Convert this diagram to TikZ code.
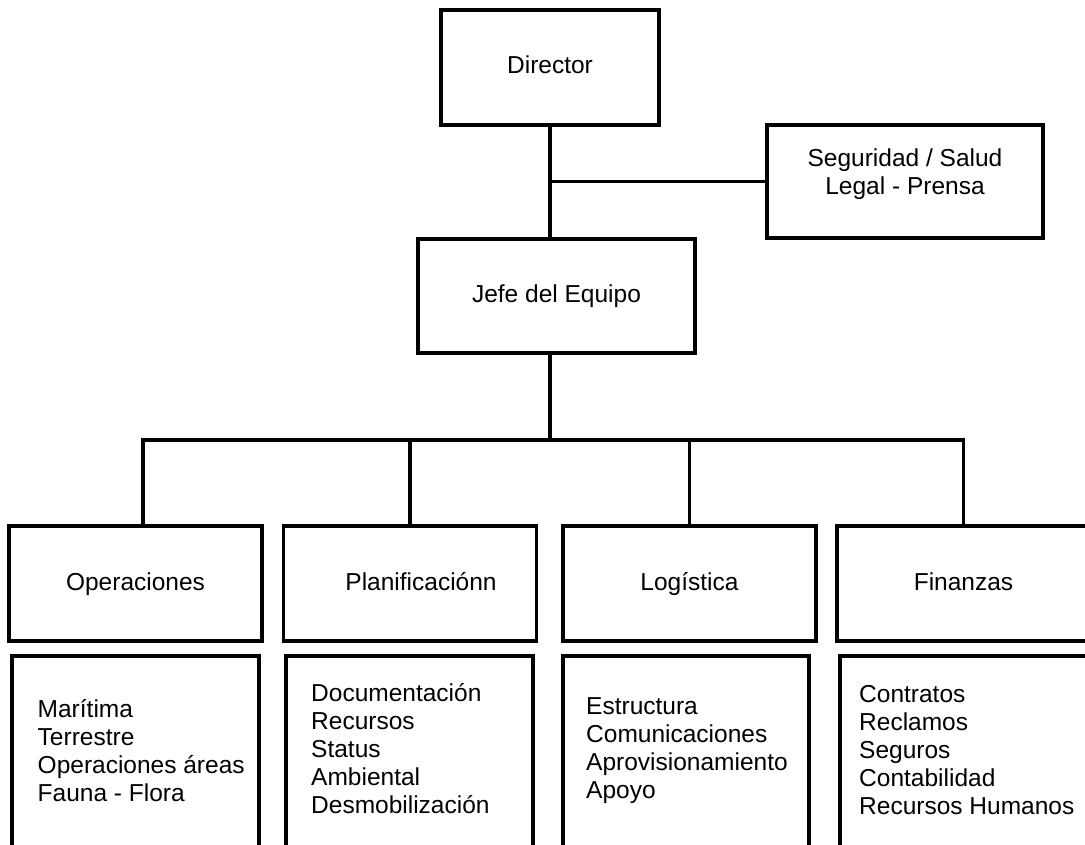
\documentclass[tikz,border=0pt]{standalone}
\usepackage{fontspec}
\setmainfont{Liberation Sans}
\usetikzlibrary{positioning}

\begin{document}
\begin{tikzpicture}[x=1pt,y=-1pt,
    font=\fontsize{24.5}{28}\selectfont,
    unit/.style={draw, line width=3.5pt, inner sep=0pt,
                 text height=18pt, text depth=5pt,
                 minimum width=253pt, minimum height=115pt},
    tasks/.style={draw, line width=3.5pt, inner sep=0pt,
                  minimum width=247pt, minimum height=230pt},
    txt/.style={inner sep=0pt, align=center},
    list/.style={inner sep=0pt, align=left, anchor=west},
    link/.style={line width=3.5pt}]
  \useasboundingbox (0,0) rectangle (1085,845);
  \clip (0,0) rectangle (1085,845);

  % top of the chart
  \node[unit, minimum width=218pt] (dir) at (550,67.5) {Director};
  \node[draw, line width=3.5pt, minimum width=276pt, minimum height=113pt] (seg) at (905,181.5) {};
  \node[txt] (segtxt) at (905,174) {Seguridad / Salud\\Legal - Prensa};
  \node[unit, minimum width=277pt, minimum height=114pt] (jefe) at (556.5,296) {Jefe del Equipo};

  % sections
  \node[unit] (op)   at (135.5,583.5) {Operaciones};
  \node[unit] (plan) at (410,583.5)   {\hspace{22pt}Planificaciónn};
  \node[unit] (log)  at (689.5,583.5) {Logística};
  \node[unit] (fin)  at (963.5,583.5) {Finanzas};

  % task lists
  \node[tasks] (opl)   at (135.5,771) {};
  \node[tasks] (planl) at (409.5,771) {};
  \node[tasks, minimum width=246pt] (logl) at (686,771) {};
  \node[tasks] (finl)  at (963.5,771) {};

  \node[list] (opltxt)   at (37.5,751) {Marítima\\Terrestre\\Operaciones áreas\\Fauna - Flora};
  \node[list] (planltxt) at (311,748.5) {Documentación\\Recursos\\Status\\Ambiental\\Desmobilización};
  \node[list] (logltxt)  at (586,751) {Estructura\\Comunicaciones\\Aprovisionamiento\\Apoyo};
  \node[list] (finltxt)  at (859,750) {Contratos\\Reclamos\\Seguros\\Contabilidad\\Recursos Humanos};

  % connectors
  \coordinate (hub) at (550,440);
  \draw[link] (dir.south) -- (dir.south |- jefe.north);
  \draw[link] (seg.west) -- (dir.south |- seg.west);
  \draw[link] (dir.south |- jefe.south) -- (hub);
  \draw[link] ([xshift=7.5]op.north) |- (hub) -| (fin.north);
  \draw[link] (plan.north) -- (plan.north |- hub);
  \draw[link] (log.north) -- (log.north |- hub);
\end{tikzpicture}
\end{document}
